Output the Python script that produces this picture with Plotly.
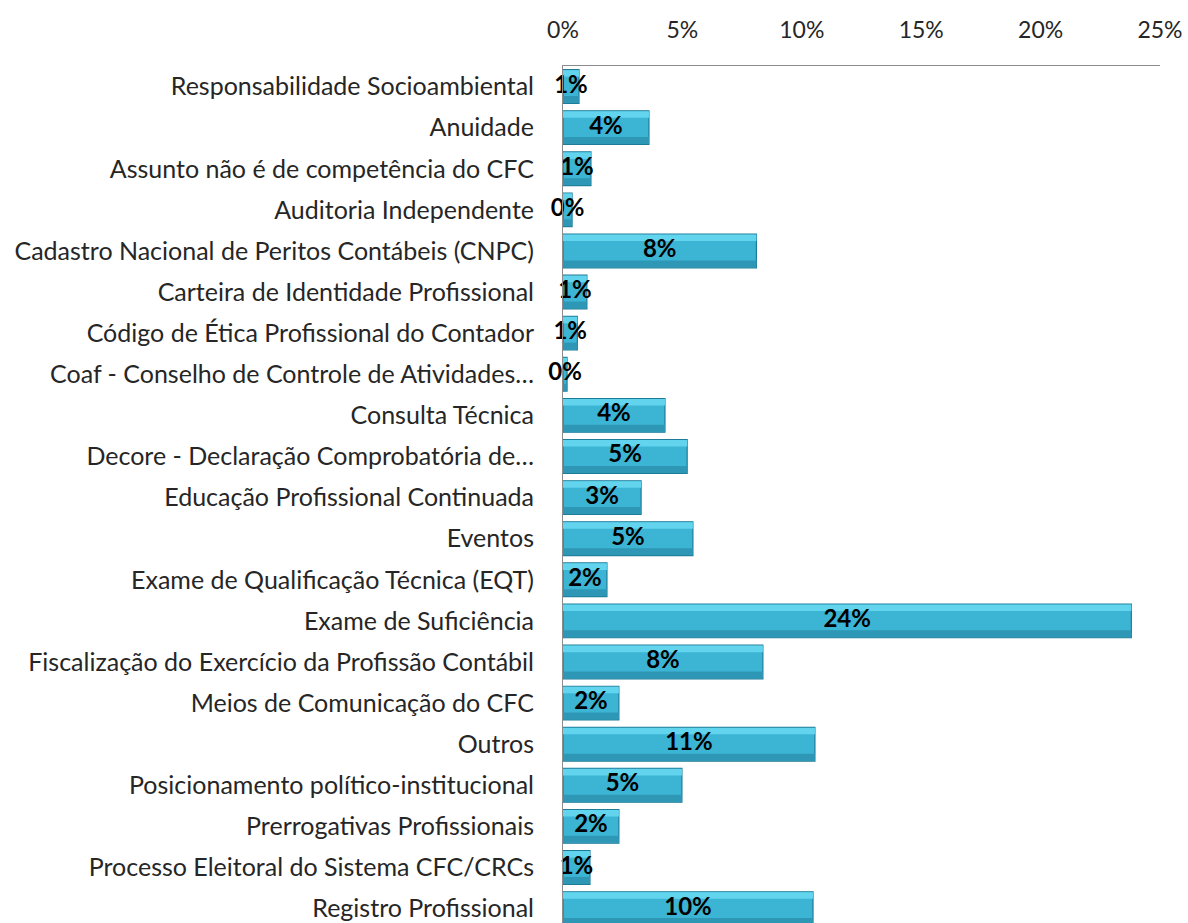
import plotly.graph_objects as go

categories = [
    "Responsabilidade Socioambiental",
    "Anuidade",
    "Assunto não é de competência do CFC",
    "Auditoria Independente",
    "Cadastro Nacional de Peritos Contábeis (CNPC)",
    "Carteira de Identidade Profissional",
    "Código de Ética Profissional do Contador",
    "Coaf - Conselho de Controle de Atividades…",
    "Consulta Técnica",
    "Decore - Declaração Comprobatória de…",
    "Educação Profissional Continuada",
    "Eventos",
    "Exame de Qualificação Técnica (EQT)",
    "Exame de Suficiência",
    "Fiscalização do Exercício da Profissão Contábil",
    "Meios de Comunicação do CFC",
    "Outros",
    "Posicionamento político-institucional",
    "Prerrogativas Profissionais",
    "Processo Eleitoral do Sistema CFC/CRCs",
    "Registro Profissional",
]
values = [0.67, 3.6, 1.17, 0.38, 8.1, 1.0, 0.6, 0.17, 4.27, 5.2, 3.27, 5.44,
          1.84, 23.8, 8.37, 2.34, 10.55, 4.98, 2.34, 1.13, 10.47]
labels = ["1%", "4%", "1%", "0%", "8%", "1%", "1%", "0%", "4%", "5%", "3%", "5%",
          "2%", "24%", "8%", "2%", "11%", "5%", "2%", "1%", "10%"]
tick_vals = [0, 5, 10, 15, 20, 25]
tick_text = ["0%", "5%", "10%", "15%", "20%", "25%"]

FONT = "Lato"
TXT = "#262626"

fig = go.Figure()
# main bar body
fig.add_trace(go.Bar(
    y=categories, x=values, orientation="h",
    marker=dict(color="#3CB4D4", line=dict(color="#1F7C98", width=1.2)),
    width=0.82, hoverinfo="skip",
))
# light upper highlight
fig.add_trace(go.Bar(
    y=categories, x=values, orientation="h",
    marker=dict(color="#62D4EE", line=dict(width=0)),
    width=0.16, offset=-0.40, hoverinfo="skip",
))
# darker lower shade
fig.add_trace(go.Bar(
    y=categories, x=values, orientation="h",
    marker=dict(color="#2E97B5", line=dict(width=0)),
    width=0.17, offset=0.23, hoverinfo="skip",
))
fig.add_trace(go.Scatter(
    y=categories, x=[v / 2 for v in values], mode="text",
    text=labels, textposition="middle center", cliponaxis=False,
    textfont=dict(family=FONT, size=24, color="black", weight="bold"),
    hoverinfo="skip",
))

fig.update_layout(
    width=1188, height=923,
    margin=dict(l=563, r=28, t=66, b=0),
    paper_bgcolor="white", plot_bgcolor="white",
    showlegend=False, barmode="overlay",
    font=dict(family=FONT, size=24, color=TXT),
    xaxis=dict(
        side="top", range=[0, 25], tickvals=tick_vals, ticktext=tick_text,
        showgrid=False, zeroline=False, showline=True, linecolor="#8c8c8c",
        linewidth=1, ticks="", ticklabelstandoff=18, automargin=False,
        tickfont=dict(family=FONT, size=23, color=TXT),
    ),
    yaxis=dict(
        type="category", categoryorder="array", categoryarray=categories,
        range=[20.35, -0.5], showgrid=False, zeroline=False,
        showline=True, linecolor="#8c8c8c", linewidth=1, ticks="",
        ticklabelstandoff=23, automargin=False,
        tickfont=dict(family=FONT, size=25, color=TXT),
    ),
)

fig.write_html("out.html", config={"displayModeBar": False},
               post_script="document.body.style.margin='0';")
